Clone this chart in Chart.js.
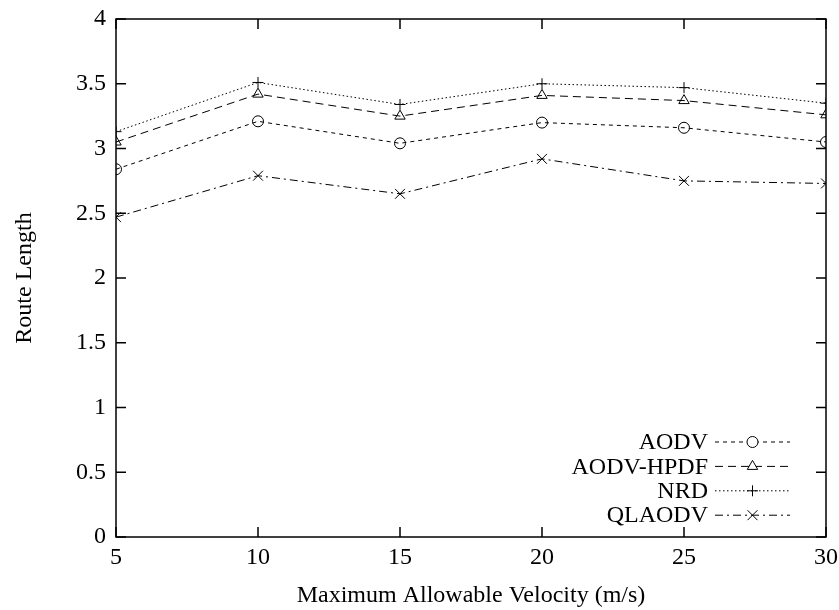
<!DOCTYPE html>
<html>
<head>
<meta charset="utf-8">
<script src="https://cdn.jsdelivr.net/npm/chart.js@4.4.1/dist/chart.umd.min.js"></script>
<style>
  html, body { margin: 0; padding: 0; background: #fff; }
  #chart { display: block; }
</style>
</head>
<body>
<canvas id="chart" width="839" height="610"></canvas>
<script>
const velocities = [5, 10, 15, 20, 25, 30];
const aodv     = [2.84, 3.21, 3.04, 3.20, 3.16, 3.05];
const aodvHpdf = [3.05, 3.42, 3.25, 3.41, 3.37, 3.26];
const nrd      = [3.13, 3.51, 3.34, 3.50, 3.47, 3.35];
const qlaodv   = [2.47, 2.79, 2.65, 2.92, 2.75, 2.73];

const FONT = 'Liberation Serif, Times New Roman, serif';
const SIZE = 24;

function pts(values) {
  return velocities.map((v, i) => ({ x: v, y: values[i] }));
}

function series(label, values, dash, style, radius) {
  return {
    label: label,
    data: pts(values),
    borderColor: '#000',
    backgroundColor: 'rgba(0,0,0,0)',
    borderWidth: 1,
    borderDash: dash,
    pointStyle: style,
    pointRadius: radius,
    pointBorderColor: '#000',
    pointBorderWidth: 1,
    pointBackgroundColor: 'rgba(0,0,0,0)',
    tension: 0
  };
}

// box around the plot with inward ticks on all four sides
const frame = {
  id: 'frame',
  afterDraw(chart) {
    const { ctx, chartArea: a, scales: { x, y } } = chart;
    const len = 10;
    ctx.save();
    ctx.strokeStyle = '#000';
    ctx.lineWidth = 1.5;
    ctx.strokeRect(a.left, a.top, a.right - a.left, a.bottom - a.top);
    ctx.beginPath();
    x.ticks.forEach(t => {
      const px = x.getPixelForValue(t.value);
      ctx.moveTo(px, a.bottom); ctx.lineTo(px, a.bottom - len);
      ctx.moveTo(px, a.top); ctx.lineTo(px, a.top + len);
    });
    y.ticks.forEach(t => {
      const py = y.getPixelForValue(t.value);
      ctx.moveTo(a.left, py); ctx.lineTo(a.left + len, py);
      ctx.moveTo(a.right, py); ctx.lineTo(a.right - len, py);
    });
    ctx.stroke();
    ctx.restore();
  }
};

// key in the lower right corner: label, then line sample with marker
const key = {
  id: 'key',
  afterDraw(chart) {
    const { ctx } = chart;
    const textRight = 708, x0 = 715, x1 = 790, top = 442, step = 24.4;
    ctx.save();
    ctx.font = SIZE + 'px ' + FONT;
    ctx.textAlign = 'right';
    ctx.textBaseline = 'middle';
    chart.data.datasets.forEach((ds, i) => {
      const yy = top + i * step;
      ctx.fillStyle = '#000';
      ctx.fillText(ds.label, textRight, yy + 1);
      ctx.save();
      ctx.strokeStyle = '#000';
      ctx.lineWidth = 1;
      ctx.setLineDash(ds.borderDash);
      ctx.beginPath();
      ctx.moveTo(x0, yy); ctx.lineTo(x1, yy);
      ctx.stroke();
      ctx.restore();
      ctx.save();
      ctx.strokeStyle = '#000';
      ctx.fillStyle = '#fff';
      ctx.lineWidth = 1;
      ctx.setLineDash([]);
      Chart.helpers.drawPoint(ctx, {
        pointStyle: ds.pointStyle, radius: ds.pointRadius, rotation: 0, borderWidth: 1
      }, (x0 + x1) / 2, yy);
      ctx.restore();
    });
    ctx.restore();
  }
};

new Chart(document.getElementById('chart'), {
  type: 'line',
  data: {
    datasets: [
      series('AODV', aodv, [4, 4], 'circle', 5.5),
      series('AODV-HPDF', aodvHpdf, [8, 5], 'triangle', 6),
      series('NRD', nrd, [1.5, 2.5], 'cross', 5.5),
      series('QLAODV', qlaodv, [8, 4, 2, 4], 'crossRot', 7)
    ]
  },
  options: {
    responsive: false,
    animation: false,
    layout: { padding: { top: 19, right: 13, left: 0, bottom: 0 } },
    plugins: {
      legend: { display: false },
      tooltip: { enabled: false }
    },
    scales: {
      x: {
        type: 'linear',
        min: 5,
        max: 30,
        afterFit(s) { s.height = 73; s.paddingLeft = 0; s.paddingRight = 0; },
        border: { display: false },
        grid: { display: false, drawTicks: false },
        ticks: { stepSize: 5, padding: 6, color: '#000', font: { family: FONT, size: SIZE } },
        title: {
          display: true,
          text: 'Maximum Allowable Velocity (m/s)',
          color: '#000',
          font: { family: FONT, size: SIZE },
          padding: { top: 0, bottom: 0 }
        }
      },
      y: {
        type: 'linear',
        min: 0,
        max: 4,
        afterFit(s) { s.width = 116; s.paddingTop = 0; s.paddingBottom = 0; },
        border: { display: false },
        grid: { display: false, drawTicks: false },
        ticks: {
          stepSize: 0.5,
          padding: 10,
          color: '#000',
          font: { family: FONT, size: SIZE },
          callback: v => String(v)
        },
        title: {
          display: true,
          text: 'Route Length',
          color: '#000',
          font: { family: FONT, size: SIZE },
          padding: { top: 10, bottom: 0 }
        }
      }
    }
  },
  plugins: [frame, key]
});
</script>
</body>
</html>
